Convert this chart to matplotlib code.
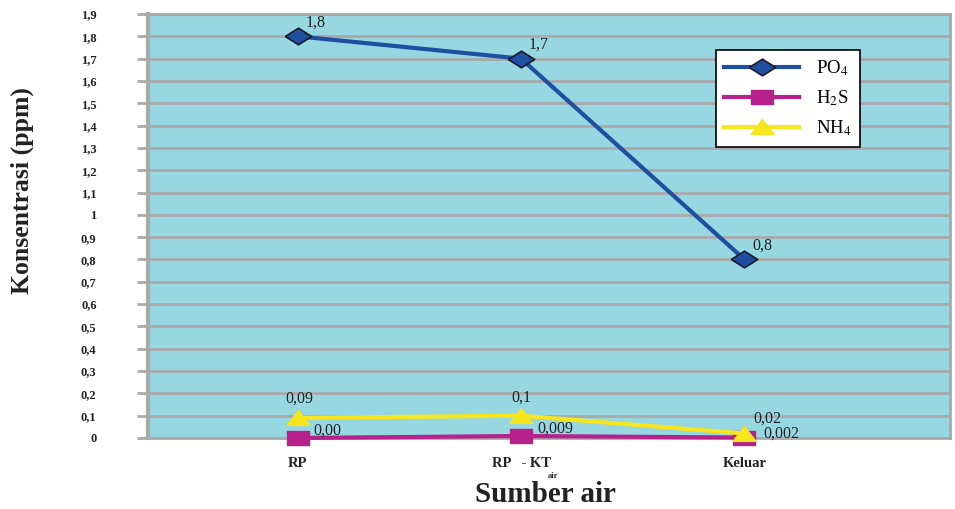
import matplotlib
matplotlib.use("Agg")
import matplotlib.pyplot as plt
import numpy as np

plt.rcParams['font.family'] = ['Liberation Serif', 'DejaVu Serif']
plt.rcParams['mathtext.fontset'] = 'stix'

categories = ["RP", "RP   - KT", "Keluar"]
po4 = [1.8, 1.7, 0.8]
h2s = [0.00, 0.009, 0.002]
nh4 = [0.09, 0.1, 0.02]
po4_labels = ["1,8", "1,7", "0,8"]
h2s_labels = ["0,00", "0,009", "0,002"]
nh4_labels = ["0,09", "0,1", "0,02"]
yticks = np.round(np.arange(0, 1.91, 0.1), 1)
ytick_labels = [("%.1f" % v).replace(".", ",") if v not in (0, 1) else str(int(v)) for v in yticks]

W, H = 955, 509
fig = plt.figure(figsize=(W / 100, H / 100), dpi=100)
ax = fig.add_axes([148 / W, 1 - 438 / H, (950 - 148) / W, (438 - 14) / H])
ax.set_facecolor('#97D7E2')

x = np.arange(len(categories))
ax.set_xlim(-0.67, 2.92)
ax.set_ylim(0, 1.9)

# horizontal grid with outward ticks
ax.set_yticks(yticks)
ax.set_yticklabels(ytick_labels, fontsize=9, fontweight='bold', color='#222222')
ax.yaxis.grid(True, color='#A9A9A9', linewidth=2)
ax.set_axisbelow(True)
ax.tick_params(axis='y', length=8, width=2, color='#A9A9A9', pad=29)

ax.set_xticks(x)
ax.set_xticklabels(categories, fontsize=10.5, fontweight='bold', color='#222222')
ax.tick_params(axis='x', length=0, pad=14)

for s in ['left', 'right', 'top', 'bottom']:
    ax.spines[s].set_color('#A9A9A9')
    ax.spines[s].set_linewidth(2)
ax.spines['left'].set_linewidth(3)

diamond = [(-1, 0), (0, 0.63), (1, 0), (0, -0.63), (-1, 0)]
rect = [(-1, -0.65), (1, -0.65), (1, 0.65), (-1, 0.65), (-1, -0.65)]
tri = [(-1, -0.6), (0, 0.7), (1, -0.6), (-1, -0.6)]

ax.plot(x, po4, color='#1F4FA0', linewidth=3, marker=diamond, markersize=19,
        markerfacecolor='#1F4FA0', markeredgecolor='#1a1a2a', markeredgewidth=1.2,
        label=r'PO$_4$', zorder=4, clip_on=False)
ax.plot(x, h2s, color='#B6218B', linewidth=3, marker=rect, markersize=16.5,
        markerfacecolor='#B6218B', markeredgecolor='#B6218B',
        label=r'H$_2$S', zorder=3, clip_on=False)
ax.plot(x, nh4, color='#F7E61E', linewidth=3, marker=tri, markersize=16.5,
        markerfacecolor='#F7E61E', markeredgecolor='#F7E61E',
        label=r'NH$_4$', zorder=5, clip_on=False)

k = 0.72  # pixels -> points
lab_kw = dict(fontsize=11.5, color='#222222', textcoords='offset points',
              ha='left', va='center', zorder=6)
for xi, v, t in zip(x, po4, po4_labels):
    ax.annotate(t, (xi, v), xytext=(8 * k, 13.5 * k), **lab_kw)
for xi, v, t, off in zip(x, h2s, h2s_labels, [(16, 7), (16, 7), (19, 4)]):
    ax.annotate(t, (xi, v), xytext=(off[0] * k, off[1] * k), **lab_kw)
for xi, v, t, off in zip(x, nh4, nh4_labels, [(-12, 19), (-10, 18), (9, 15)]):
    ax.annotate(t, (xi, v), xytext=(off[0] * k, off[1] * k), **lab_kw)

# subscript under the middle category
fig.text(553 / W, 1 - 476 / H, "air", fontsize=6, fontweight='bold',
         ha='center', va='center', color='#222222')

fig.text(22 / W, 1 - 191 / H, "Konsentrasi (ppm)", fontsize=18.5, fontweight='bold',
         rotation=90, ha='center', va='center', color='#222222')
fig.text(545 / W, 1 - 494 / H, "Sumber air", fontsize=21, fontweight='bold',
         ha='center', va='center', color='#222222')

leg = ax.legend(loc='upper left', bbox_to_anchor=((716 - 148) / 802, (438 - 50) / 424),
                fontsize=13.5, frameon=True, fancybox=False, edgecolor='black',
                framealpha=1, handlelength=4.0, borderpad=0.45, labelspacing=0.55,
                handletextpad=0.9, borderaxespad=0)
leg.get_frame().set_linewidth(1.2)

fig.savefig("out.png", dpi=100)
